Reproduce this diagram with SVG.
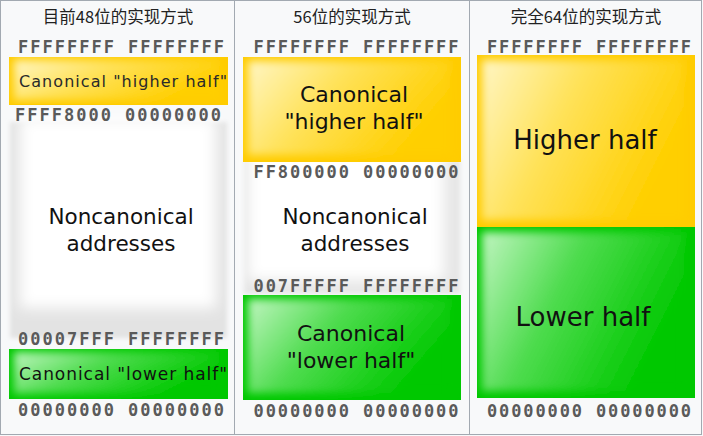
<svg xmlns="http://www.w3.org/2000/svg" width="703" height="436" viewBox="0 0 703 436">
<defs>
<style>
.title{font-family:"Noto Sans CJK SC","Noto Sans",sans-serif;font-size:16.5px;fill:#222;text-anchor:middle}
.hex{font-family:"DejaVu Sans Mono",monospace;font-weight:bold;font-size:17px;fill:#5a5a5a;text-anchor:middle}
.lbl{font-family:"DejaVu Sans",sans-serif;fill:#111;text-anchor:middle}
.sep{stroke:#a2a9b1;stroke-width:1;fill:none}
</style>
<linearGradient id="yg" x1="0" y1="0" x2="1" y2="0.4">
<stop offset="0" stop-color="#fff6c4"/>
<stop offset="0.45" stop-color="#ffe25a"/>
<stop offset="1" stop-color="#ffcf00"/>
</linearGradient>
<linearGradient id="gg" x1="0" y1="0" x2="1" y2="0.4">
<stop offset="0" stop-color="#c0f5c0"/>
<stop offset="0.45" stop-color="#4fdc4f"/>
<stop offset="1" stop-color="#00c800"/>
</linearGradient>
<filter id="blur" x="-10%" y="-10%" width="120%" height="120%">
<feGaussianBlur stdDeviation="4"/>
</filter>
<filter id="soft" x="-20%" y="-20%" width="140%" height="140%">
<feGaussianBlur stdDeviation="7"/>
</filter>
<filter id="edge" x="-10%" y="-10%" width="120%" height="120%">
<feGaussianBlur stdDeviation="2"/>
</filter>
<clipPath id="c1y"><rect x="9" y="57" width="219" height="48"/></clipPath>
<clipPath id="c1n"><rect x="9" y="122" width="219" height="218"/></clipPath>
<clipPath id="c1g"><rect x="9" y="349" width="219" height="50"/></clipPath>
<clipPath id="c2y"><rect x="243" y="57" width="218" height="105"/></clipPath>
<clipPath id="c2n"><rect x="243" y="162" width="218" height="133"/></clipPath>
<clipPath id="c2g"><rect x="243" y="295" width="218" height="105"/></clipPath>
<clipPath id="c3y"><rect x="477" y="55" width="218" height="172"/></clipPath>
<clipPath id="c3g"><rect x="477" y="227" width="218" height="171"/></clipPath>
</defs>
<rect x="0" y="0" width="703" height="436" fill="#f8f9fa"/>
<rect x="0.5" y="0.5" width="701" height="434" class="sep"/>
<line x1="234.5" y1="0" x2="234.5" y2="435" class="sep"/>
<line x1="469.5" y1="0" x2="469.5" y2="435" class="sep"/>

<g id="col48">
<text class="title" x="118" y="23">目前48位的实现方式</text>
<g id="n48-non">
<rect x="10" y="122" width="217" height="216" fill="#e3e3e3" filter="url(#edge)"/>
<rect x="20" y="118" width="196" height="190" fill="#ffffff" filter="url(#soft)"/>
<text class="lbl" x="121" y="224" font-size="21.5">Noncanonical</text>
<text class="lbl" x="121" y="251" font-size="21.5">addresses</text>
</g>
<text class="hex" x="121" y="53" textLength="206" lengthAdjust="spacing">FFFFFFFF FFFFFFFF</text>
<g id="n48-high" clip-path="url(#c1y)">
<rect x="9" y="57" width="219" height="48" fill="#ffcc00"/>
<rect x="14" y="60" width="205" height="40" fill="url(#yg)" filter="url(#blur)"/>
<text class="lbl" x="123" y="87" font-size="16" textLength="208" lengthAdjust="spacing" style="fill:#2a2a2a">Canonical "higher half"</text>
</g>
<text class="hex" x="118" y="121" textLength="206" lengthAdjust="spacing">FFFF8000 00000000</text>
<text class="hex" x="121" y="345" textLength="206" lengthAdjust="spacing">00007FFF FFFFFFFF</text>
<g id="n48-low" clip-path="url(#c1g)">
<rect x="9" y="349" width="219" height="50" fill="#00c800"/>
<rect x="14" y="352" width="205" height="42" fill="url(#gg)" filter="url(#blur)"/>
<text class="lbl" x="123" y="380" font-size="17" textLength="208" lengthAdjust="spacing">Canonical "lower half"</text>
</g>
<text class="hex" x="121" y="416" textLength="206" lengthAdjust="spacing">00000000 00000000</text>
</g>

<g id="col56">
<text class="title" x="352" y="23">56位的实现方式</text>
<g id="n56-non">
<rect x="244" y="160" width="216" height="134" fill="#e6e6e6" filter="url(#edge)"/>
<rect x="248" y="150" width="196" height="130" fill="#ffffff" filter="url(#soft)"/>
<text class="lbl" x="355" y="224" font-size="21.5">Noncanonical</text>
<text class="lbl" x="355" y="251" font-size="21.5">addresses</text>
</g>
<text class="hex" x="356" y="53" textLength="205" lengthAdjust="spacing">FFFFFFFF FFFFFFFF</text>
<g id="n56-high" clip-path="url(#c2y)">
<rect x="243" y="57" width="218" height="105" fill="#ffcc00"/>
<rect x="248" y="61" width="202" height="94" fill="url(#yg)" filter="url(#blur)"/>
<text class="lbl" x="354" y="102" font-size="22">Canonical</text>
<text class="lbl" x="354" y="129" font-size="22">"higher half"</text>
</g>
<text class="hex" x="356" y="178" textLength="205" lengthAdjust="spacing">FF800000 00000000</text>
<text class="hex" x="356" y="292" textLength="205" lengthAdjust="spacing">007FFFFF FFFFFFFF</text>
<g id="n56-low" clip-path="url(#c2g)">
<rect x="243" y="295" width="218" height="105" fill="#00c800"/>
<rect x="248" y="299" width="202" height="94" fill="url(#gg)" filter="url(#blur)"/>
<text class="lbl" x="351" y="341" font-size="22">Canonical</text>
<text class="lbl" x="351" y="368" font-size="22">"lower half"</text>
</g>
<text class="hex" x="356" y="417" textLength="205" lengthAdjust="spacing">00000000 00000000</text>
</g>

<g id="col64">
<text class="title" x="586" y="23">完全64位的实现方式</text>
<text class="hex" x="589" y="53" textLength="204" lengthAdjust="spacing">FFFFFFFF FFFFFFFF</text>
<g id="n64-high" clip-path="url(#c3y)">
<rect x="477" y="55" width="218" height="172" fill="#ffcc00"/>
<rect x="482" y="60" width="202" height="160" fill="url(#yg)" filter="url(#blur)"/>
<text class="lbl" x="585" y="149" font-size="26">Higher half</text>
</g>
<g id="n64-low" clip-path="url(#c3g)">
<rect x="477" y="227" width="218" height="171" fill="#00c800"/>
<rect x="482" y="232" width="202" height="159" fill="url(#gg)" filter="url(#blur)"/>
<text class="lbl" x="583" y="326" font-size="26">Lower half</text>
</g>
<text class="hex" x="589" y="417" textLength="204" lengthAdjust="spacing">00000000 00000000</text>
</g>
</svg>
